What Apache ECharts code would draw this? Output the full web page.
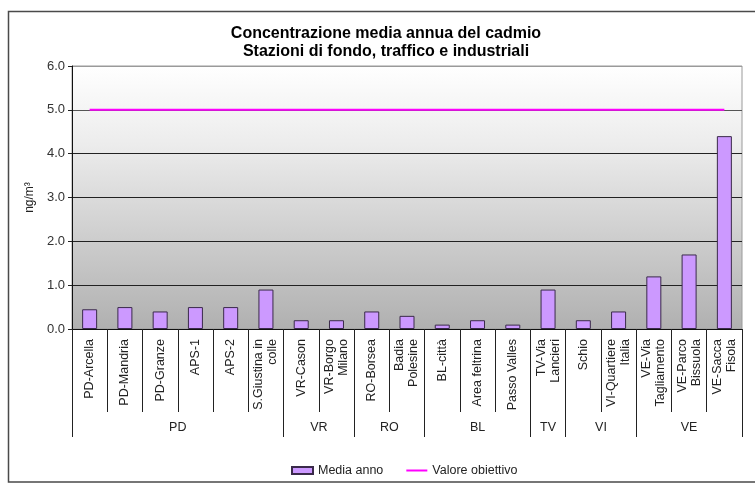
<!DOCTYPE html>
<html>
<head>
    <meta charset="utf-8">
    <title>Cadmio</title>
    <script src="https://cdn.jsdelivr.net/npm/echarts@6/dist/echarts.min.js"></script>
    <style>
        html, body {margin: 0; padding: 0; background: #fff;}
        #chart {width: 755px; height: 484px;}
    </style>
</head>
<body>
    <div id="chart"></div>
    <script type="text/javascript">
        // dati
        var stazioni = ['PD-Arcella', 'PD-Mandria', 'PD-Granze', 'APS-1', 'APS-2', 'S.Giustina in\ncolle',
            'VR-Cason', 'VR-Borgo\nMilano', 'RO-Borsea', 'Badia\nPolesine', 'BL-città', 'Area feltrina',
            'Passo Valles', 'TV-Via\nLancieri', 'Schio', 'VI-Quartiere\nItalia', 'VE-Via\nTagliamento',
            'VE-Parco\nBissuola', 'VE-Sacca\nFisola'];
        var mediaAnno = [0.45, 0.5, 0.4, 0.5, 0.5, 0.9, 0.2, 0.2, 0.4, 0.3, 0.1, 0.2, 0.1, 0.9, 0.2, 0.4, 1.2, 1.7, 4.4];
        var valoreObiettivo = [5, 5, 5, 5, 5, 5, 5, 5, 5, 5, 5, 5, 5, 5, 5, 5, 5, 5, 5];
        var province = ['PD', 'VR', 'RO', 'BL', 'TV', 'VI', 'VE'];
        var stazioniPerProvincia = [6, 2, 2, 3, 1, 2, 3];
        var yTicks = [0, 1, 2, 3, 4, 5, 6];

        // confini e centri dei gruppi (in unità di categoria)
        var confini = [0], centri = [];
        stazioniPerProvincia.forEach(function (n) {
            var start = confini[confini.length - 1];
            centri.push(start + n / 2);
            confini.push(start + n);
        });
        // divisori tra una stazione e l'altra
        var divisori = stazioni.map(function (s, i) { return i; }).concat([stazioni.length]);

        var font = 'Liberation Sans, Arial, sans-serif';
        var chart = echarts.init(document.getElementById('chart'));
        var option = {
            animation: false,
            textStyle: {fontFamily: font},
            title: {
                text: 'Concentrazione media annua del cadmio\nStazioni di fondo, traffico e industriali',
                left: 381,
                top: 20,
                textAlign: 'center',
                textStyle: {fontSize: 16, fontWeight: 'bold', color: '#000', lineHeight: 18, fontFamily: font}
            },
            graphic: [{
                type: 'rect',
                shape: {x: 8.5, y: 11.5, width: 800, height: 470.5},
                style: {fill: 'none', stroke: '#4a4a4a', lineWidth: 1.5},
                silent: true
            }],
            legend: {
                left: 286,
                top: 459,
                itemGap: 22,
                itemWidth: 21,
                itemHeight: 7,
                textStyle: {fontSize: 12.5, color: '#222', fontFamily: font},
                data: [
                    {name: 'Media anno', icon: 'rect'},
                    {name: 'Valore obiettivo', itemStyle: {opacity: 0}}
                ]
            },
            grid: {
                left: 72,
                right: 13,
                top: 66,
                bottom: 155,
                show: true,
                borderColor: '#9a9a9a',
                borderWidth: 1,
                backgroundColor: new echarts.graphic.LinearGradient(0, 0, 0, 1, [
                    {offset: 0, color: '#ffffff'},
                    {offset: 0.3, color: '#ececec'},
                    {offset: 1, color: '#b0b0b0'}
                ])
            },
            xAxis: [{
                type: 'category',
                data: stazioni,
                axisLine: {lineStyle: {color: '#111', width: 1}},
                axisTick: {show: false},
                axisLabel: {
                    interval: 0,
                    rotate: 90,
                    margin: 10,
                    fontSize: 12.5,
                    lineHeight: 14,
                    color: '#222',
                    fontFamily: font
                }
            }, {
                // divisori tra le stazioni
                type: 'value',
                position: 'bottom',
                min: 0,
                max: stazioni.length,
                axisLine: {show: false},
                splitLine: {show: false},
                axisLabel: {show: false},
                axisTick: {
                    show: true,
                    length: 83,
                    customValues: divisori,
                    lineStyle: {color: '#222'}
                }
            }, {
                // province
                type: 'value',
                position: 'bottom',
                min: 0,
                max: stazioni.length,
                axisLine: {show: false},
                splitLine: {show: false},
                axisTick: {
                    show: true,
                    length: 108,
                    customValues: confini,
                    lineStyle: {color: '#222'}
                },
                axisLabel: {
                    customValues: centri,
                    margin: 92,
                    fontSize: 12.5,
                    color: '#222',
                    fontFamily: font,
                    formatter: function (v) {
                        var i = centri.indexOf(v);
                        return i >= 0 ? province[i] : '';
                    }
                }
            }],
            yAxis: {
                type: 'value',
                min: yTicks[0],
                max: yTicks[yTicks.length - 1],
                interval: 1,
                name: 'ng/m³',
                nameLocation: 'middle',
                nameRotate: 90,
                nameGap: 36,
                nameTextStyle: {fontSize: 12, color: '#222', fontFamily: font},
                axisLine: {show: true, lineStyle: {color: '#111'}},
                axisTick: {show: true, length: 4, lineStyle: {color: '#222'}},
                axisLabel: {
                    fontSize: 13,
                    color: '#333',
                    margin: 7,
                    fontFamily: font,
                    formatter: function (v) { return v.toFixed(1); }
                },
                splitLine: {
                    show: true,
                    lineStyle: {color: ['#222', '#222', '#222', '#222', '#222', '#555', '#9a9a9a'], width: 1}
                }
            },
            series: [{
                name: 'Media anno',
                type: 'bar',
                data: mediaAnno,
                barWidth: 15,
                itemStyle: {color: '#cc99ff', borderColor: '#3a2a4a', borderWidth: 1}
            }, {
                name: 'Valore obiettivo',
                type: 'line',
                data: valoreObiettivo,
                symbol: 'none',
                lineStyle: {color: '#ff00ff', width: 2},
                itemStyle: {color: '#ff00ff'},
                z: 3
            }]
        };
        chart.setOption(option);
    </script>
</body>
</html>
